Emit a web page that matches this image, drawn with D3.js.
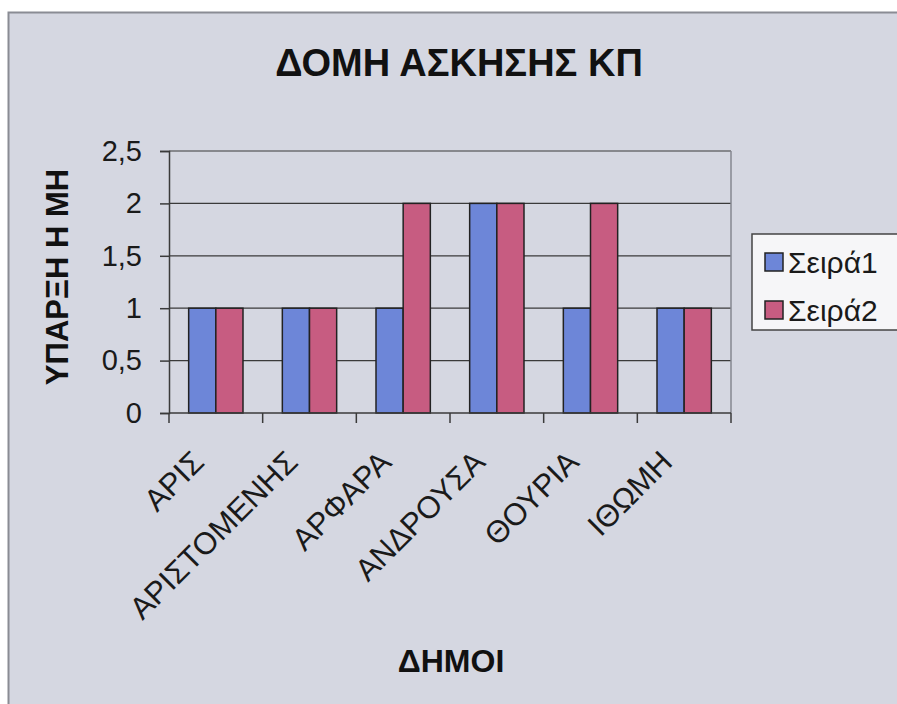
<!DOCTYPE html>
<html>
<head>
<meta charset="utf-8">
<script src="https://cdn.jsdelivr.net/npm/d3@7"></script>
<style>
  body { margin: 0; background: #ffffff; }
  svg { display: block; font-family: "Liberation Sans", Arial, sans-serif; }
</style>
</head>
<body>
<div id="chart"></div>
<script>
const categories = ["ΑΡΙΣ", "ΑΡΙΣΤΟΜΕΝΗΣ", "ΑΡΦΑΡΑ", "ΑΝΔΡΟΥΣΑ", "ΘΟΥΡΙΑ", "ΙΘΩΜΗ"];
const series_names = ["Σειρά1", "Σειρά2"];
const series1 = [1, 1, 1, 2, 1, 1];
const series2 = [1, 1, 2, 2, 2, 1];
const y_ticks = [0, 0.5, 1, 1.5, 2, 2.5];
const colors = ["#6d86d8", "#c75c81"];

const W = 897, H = 704;
const margin = { top: 151, right: 166, bottom: 291, left: 169 };
const width = W - margin.left - margin.right;
const height = H - margin.top - margin.bottom;

const svg = d3.select("#chart").append("svg")
    .attr("width", W)
    .attr("height", H);

// chart area
svg.append("rect")
    .attr("x", 8.5).attr("y", 12.5)
    .attr("width", W).attr("height", H)
    .attr("fill", "#d5d7e1")
    .attr("stroke", "#8a8c94")
    .attr("stroke-width", 2);

const g = svg.append("g").attr("transform", `translate(${margin.left},${margin.top})`);

const x = d3.scaleBand().domain(categories).range([0, width]);
const y = d3.scaleLinear().domain([0, 2.5]).range([height, 0]);
const bar_w = x.bandwidth() * 0.29;

// gridlines
g.selectAll(".grid")
    .data(y_ticks.filter(d => d > 0))
    .enter().append("line")
    .attr("x1", 0).attr("x2", width)
    .attr("y1", d => y(d)).attr("y2", d => y(d))
    .attr("stroke", "#3a3a3a")
    .attr("stroke-width", 1.2);

// right border of plot
g.append("line")
    .attr("x1", width).attr("x2", width)
    .attr("y1", 0).attr("y2", height)
    .attr("stroke", "#85878f")
    .attr("stroke-width", 1.5);

const data = categories.map((c, i) => ({ cat: c, vals: [series1[i], series2[i]] }));

const groups = g.selectAll(".grp")
    .data(data)
    .enter().append("g")
    .attr("transform", d => `translate(${x(d.cat) + x.bandwidth() / 2 - bar_w},0)`);

groups.selectAll("rect")
    .data(d => d.vals)
    .enter().append("rect")
    .attr("x", (d, i) => i * bar_w)
    .attr("y", d => y(d))
    .attr("width", bar_w)
    .attr("height", d => height - y(d))
    .attr("fill", (d, i) => colors[i])
    .attr("stroke", "#222")
    .attr("stroke-width", 1.5);

// y axis
const y_axis = g.append("g")
    .call(d3.axisLeft(y).tickValues(y_ticks).tickSize(9).tickPadding(18)
        .tickFormat(d => String(d).replace(".", ",")));
y_axis.select(".domain").attr("stroke", "#3a3a3a").attr("stroke-width", 1.5);
y_axis.selectAll(".tick line").attr("stroke", "#3a3a3a").attr("stroke-width", 1.5);
y_axis.selectAll("text").style("font-size", "29px").attr("fill", "#1a1a1a");

// x axis
const x_ticks = d3.range(categories.length + 1).map(i => i * x.bandwidth());
g.append("line")
    .attr("x1", 0).attr("x2", width)
    .attr("y1", height).attr("y2", height)
    .attr("stroke", "#3a3a3a").attr("stroke-width", 1.5);
g.selectAll(".xt")
    .data(x_ticks)
    .enter().append("line")
    .attr("x1", d => d).attr("x2", d => d)
    .attr("y1", height).attr("y2", height + 10)
    .attr("stroke", "#3a3a3a").attr("stroke-width", 1.5);

g.selectAll(".xl")
    .data(categories)
    .enter().append("text")
    .attr("transform", d => `translate(${x(d) + x.bandwidth() / 2 - 10},${height + 51}) rotate(-45)`)
    .attr("text-anchor", "end")
    .style("font-size", "31px")
    .attr("fill", "#1a1a1a")
    .text(d => d);

// titles
svg.append("text")
    .attr("x", 459).attr("y", 76)
    .attr("text-anchor", "middle")
    .style("font-size", "38px")
    .style("font-weight", "bold")
    .attr("fill", "#111")
    .text("ΔΟΜΗ ΑΣΚΗΣΗΣ ΚΠ");

svg.append("text")
    .attr("transform", "translate(68,277) rotate(-90)")
    .attr("text-anchor", "middle")
    .style("font-size", "31px")
    .style("font-weight", "bold")
    .attr("fill", "#111")
    .text("ΥΠΑΡΞΗ Η ΜΗ");

svg.append("text")
    .attr("x", 451).attr("y", 672)
    .attr("text-anchor", "middle")
    .style("font-size", "32px")
    .style("font-weight", "bold")
    .attr("fill", "#111")
    .text("ΔΗΜΟΙ");

// legend
const legend = svg.append("g").attr("transform", "translate(752,234)");
legend.append("rect")
    .attr("width", 160).attr("height", 96)
    .attr("fill", "#f6f6f8")
    .attr("stroke", "#444").attr("stroke-width", 1.5);
series_names.forEach((s, i) => {
    legend.append("rect")
        .attr("x", 13).attr("y", 19 + i * 48)
        .attr("width", 18).attr("height", 18)
        .attr("fill", colors[i])
        .attr("stroke", "#222").attr("stroke-width", 1.5);
    legend.append("text")
        .attr("x", 36).attr("y", 39 + i * 48)
        .style("font-size", "30px")
        .attr("fill", "#1a1a1a")
        .text(s);
});
</script>
</body>
</html>
